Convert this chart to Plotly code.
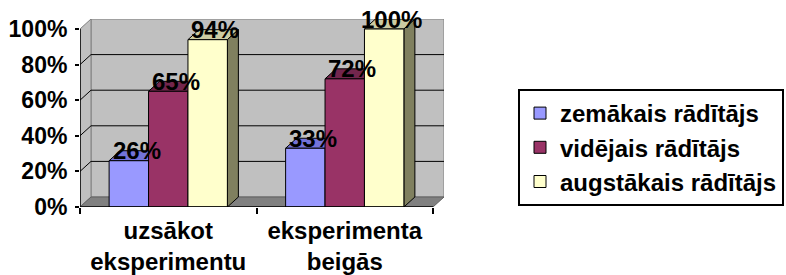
import plotly.graph_objects as go

# ---- data ----
categories = ["uzsākot<br>eksperimentu", "eksperimenta<br>beigās"]
series_names = ["zemākais rādītājs", "vidējais rādītājs", "augstākais rādītājs"]
low_values = [0.26, 0.33]
mid_values = [0.65, 0.72]
high_values = [0.94, 1.00]
y_tick_values = [0, 0.2, 0.4, 0.6, 0.8, 1.0]
y_tick_labels = ["0%", "20%", "40%", "60%", "80%", "100%"]

# ---- style ----
front_colors = ["#9999FF", "#993366", "#FFFFCC"]
top_colors = ["#7373D9", "#73264D", "#CCCCA3"]
side_colors = ["#6B6BB3", "#6B2447", "#80805F"]
FONT = "Liberation Sans, Arial, sans-serif"
FS = 24
BARGAP = 0.33
DX = 0.0623   # depth offset (x data units)
DY = 0.0562   # depth offset (y data units)
XMIN, XMAX = -0.5, 1.5
n_series = 3
bar_w = (1 - BARGAP) / n_series

all_values = [low_values, mid_values, high_values]
cat_pos = list(range(len(categories)))

fig = go.Figure()
for i, (name, vals) in enumerate(zip(series_names, all_values)):
    fig.add_trace(go.Bar(
        x=cat_pos, y=vals, name=name, legendgroup=name,
        marker=dict(color=front_colors[i], line=dict(color="black", width=1)),
        hoverinfo="skip",
    ))

shapes = []
# back wall
shapes.append(dict(type="rect", xref="x", yref="y", x0=XMIN + DX, x1=XMAX + DX, y0=DY, y1=1 + DY,
                   fillcolor="#C0C0C0", line=dict(color="#808080", width=1), layer="below"))
# left wall
shapes.append(dict(type="path", xref="x", yref="y",
                   path=f"M{XMIN},0 L{XMIN},1 L{XMIN+DX},{1+DY} L{XMIN+DX},{DY} Z",
                   fillcolor="#C0C0C0", line=dict(color="#808080", width=1), layer="below"))
# floor
shapes.append(dict(type="path", xref="x", yref="y",
                   path=f"M{XMIN},0 L{XMAX},0 L{XMAX+DX},{DY} L{XMIN+DX},{DY} Z",
                   fillcolor="#808080", line=dict(color="#606060", width=1), layer="below"))
# gridlines
for v in y_tick_values[1:-1]:
    shapes.append(dict(type="line", xref="x", yref="y", x0=XMIN + DX, x1=XMAX + DX, y0=v + DY, y1=v + DY,
                       line=dict(color="black", width=1), layer="below"))
    shapes.append(dict(type="line", xref="x", yref="y", x0=XMIN, x1=XMIN + DX, y0=v, y1=v + DY,
                       line=dict(color="black", width=1), layer="below"))
# bar top & side faces
for i, vals in enumerate(all_values):
    for c, v in zip(cat_pos, vals):
        xc = c + (i - (n_series - 1) / 2) * bar_w
        x0, x1 = xc - bar_w / 2, xc + bar_w / 2
        shapes.append(dict(type="path", xref="x", yref="y",
                           path=f"M{x0},{v} L{x1},{v} L{x1+DX},{v+DY} L{x0+DX},{v+DY} Z",
                           fillcolor=top_colors[i], line=dict(color="black", width=1), layer="below"))
        shapes.append(dict(type="path", xref="x", yref="y",
                           path=f"M{x1},0 L{x1},{v} L{x1+DX},{v+DY} L{x1+DX},{DY} Z",
                           fillcolor=side_colors[i], line=dict(color="black", width=1), layer="below"))
# front axis lines
shapes.append(dict(type="line", xref="x", yref="y", x0=XMIN, x1=XMIN, y0=0, y1=1,
                   line=dict(color="black", width=1.5)))
shapes.append(dict(type="line", xref="x", yref="y", x0=XMIN, x1=XMAX, y0=0, y1=0,
                   line=dict(color="black", width=1.5)))

annotations = []
for i, vals in enumerate(all_values):
    for c, v in zip(cat_pos, vals):
        xc = c + (i - (n_series - 1) / 2) * bar_w
        annotations.append(dict(x=xc + 0.7 * DX, y=v + DY, xref="x", yref="y",
                                text=f"{round(v * 100)}%", showarrow=False,
                                xanchor="center", yanchor="middle",
                                font=dict(family=FONT, size=FS, color="black", weight=700)))

fig.update_layout(
    width=786, height=275,
    margin=dict(l=80, r=342, t=19, b=68, autoexpand=False),
    paper_bgcolor="white", plot_bgcolor="white",
    barmode="group", bargap=BARGAP, bargroupgap=0,
    shapes=shapes, annotations=annotations,
    showlegend=True,
    legend=dict(xref="container", yref="container", x=518 / 786, y=1 - 89 / 275,
                xanchor="left", yanchor="top",
                bordercolor="black", borderwidth=2, bgcolor="white",
                font=dict(family=FONT, size=FS, color="black", weight=700),
                tracegroupgap=7, itemwidth=30, traceorder="normal"),
    xaxis=dict(range=[XMIN, XMAX + DX], tickvals=[-0.5, 0.5, 1.5], ticktext=["", "", ""],
               ticks="outside", ticklen=6, tickcolor="black", tickwidth=1.5, automargin=False,
               showgrid=False, zeroline=False, showline=False, fixedrange=True),
    xaxis2=dict(range=[XMIN, XMAX + DX], overlaying="x", anchor="y", side="bottom",
                tickvals=cat_pos, ticktext=categories, ticks="", automargin=False,
                ticklabelstandoff=7,
                tickfont=dict(family=FONT, size=FS, color="black", weight=700),
                showgrid=False, zeroline=False, showline=False, fixedrange=True),
    yaxis=dict(range=[0, 1 + DY], tickvals=y_tick_values, ticktext=y_tick_labels,
               ticks="outside", ticklen=4, tickcolor="black", tickwidth=1.5,
               ticklabelstandoff=3, automargin=False,
               tickfont=dict(family=FONT, size=23, color="black", weight=700),
               showgrid=False, zeroline=False, showline=False, fixedrange=True),
)
# invisible trace to activate the category label axis
fig.add_trace(go.Scatter(x=cat_pos, y=[0, 0], xaxis="x2", yaxis="y", mode="markers",
                         marker=dict(opacity=0), showlegend=False, hoverinfo="skip"))

fig.write_html("out.html", config={"displayModeBar": False},
               post_script="document.body.style.margin='0';document.body.style.padding='0';")
